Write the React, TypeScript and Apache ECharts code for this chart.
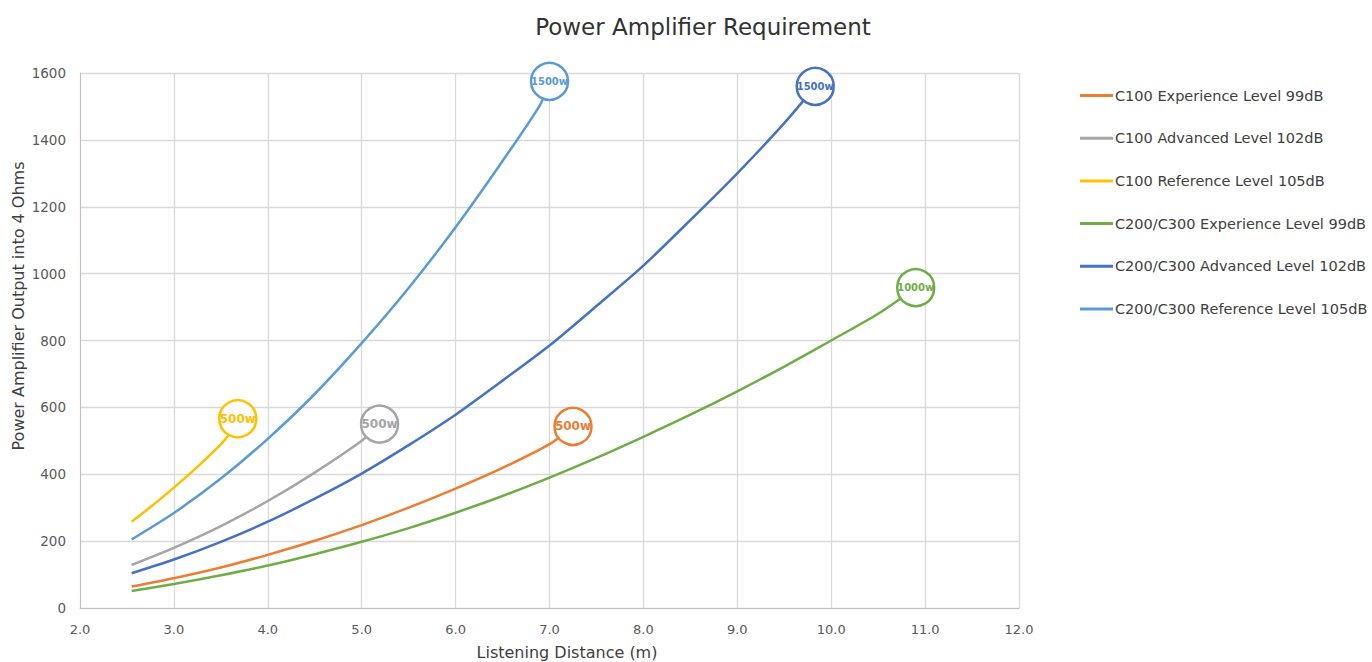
import React, { useEffect, useRef } from "react";
import * as echarts from "echarts";

const FONT = "'DejaVu Sans', 'Open Sans', sans-serif";

const seriesNames = [
  "C100 Experience Level 99dB",
  "C100 Advanced Level 102dB",
  "C100 Reference Level 105dB",
  "C200/C300 Experience Level 99dB",
  "C200/C300 Advanced Level 102dB",
  "C200/C300 Reference Level 105dB",
];

const seriesColors = ["#ED7D31", "#A5A5A5", "#FFC000", "#70AD47", "#4472C4", "#5B9BD5"];

const endLabels = ["500w", "500w", "500w", "1000w", "1500w", "1500w"];

const xAxisTitle = "Listening Distance (m)";
const yAxisTitle = "Power Amplifier Output into 4 Ohms";

// Listening distance (m) and amplifier power (W)
const c100ExpX = [2.55, 3.0, 3.5, 4.0, 4.5, 5.0, 5.5, 6.0, 6.5, 7.0, 7.25];
const c100ExpY = [64, 89, 121, 159, 201, 248, 300, 357, 419, 490, 543];

const c100AdvX = [2.55, 3.0, 3.5, 4.0, 4.5, 5.0, 5.19];
const c100AdvY = [129, 180, 245, 320, 405, 500, 550];

const c100RefX = [2.55, 2.8, 3.0, 3.25, 3.55, 3.68];
const c100RefY = [258, 313, 360, 422, 505, 566];

const c200ExpX = [2.55, 3.0, 3.5, 4.0, 4.5, 5.0, 5.5, 6.0, 6.5, 7.0, 7.5, 8.0, 8.5, 9.0, 9.5, 10.0, 10.5, 10.9];
const c200ExpY = [51, 72, 98, 127, 161, 198, 239, 285, 335, 390, 449, 512, 578, 648, 722, 800, 880, 958];

const c200AdvX = [2.55, 3.0, 3.5, 4.0, 4.5, 5.0, 5.5, 6.0, 6.5, 7.0, 7.5, 8.0, 8.5, 9.0, 9.5, 9.83];
const c200AdvY = [104, 145, 198, 258, 327, 402, 487, 578, 680, 785, 903, 1024, 1160, 1300, 1450, 1560];

const c200RefX = [2.55, 3.0, 3.5, 4.0, 4.5, 5.0, 5.5, 6.0, 6.5, 6.9, 7.0];
const c200RefY = [205, 284, 387, 506, 640, 792, 957, 1139, 1337, 1505, 1575];

const xs = [c100ExpX, c100AdvX, c100RefX, c200ExpX, c200AdvX, c200RefX];
const ys = [c100ExpY, c100AdvY, c100RefY, c200ExpY, c200AdvY, c200RefY];

export default function App() {
  const ref = useRef<HTMLDivElement>(null);

  useEffect(() => {
    if (!ref.current) return;
    const chart = echarts.init(ref.current, undefined, { renderer: "svg" });

    const series = seriesNames.map((name, i) => {
      const color = seriesColors[i];
      const n = xs[i].length;
      const data = xs[i].map((x, j) => {
        if (j === n - 1) {
          return {
            value: [x, ys[i][j]],
            symbol: "circle",
            symbolSize: 37,
            itemStyle: { color: "#ffffff", borderColor: color, borderWidth: 2.5 },
            label: {
              show: true,
              position: "inside",
              formatter: endLabels[i],
              color: color,
              fontFamily: FONT,
              fontWeight: "bold",
              fontSize: endLabels[i].length > 4 ? 10 : 12,
            },
          };
        }
        return { value: [x, ys[i][j]] };
      });
      return {
        name,
        type: "line",
        smooth: 0.25,
        symbol: "none",
        showSymbol: true,
        clip: false,
        color,
        lineStyle: { color, width: 2.5 },
        itemStyle: { color },
        data,
        z: 2 + i,
      };
    });

    chart.setOption({
      animation: false,
      backgroundColor: "#ffffff",
      title: {
        text: "Power Amplifier Requirement",
        left: 698,
        top: 10,
        textAlign: "center",
        textStyle: { fontFamily: FONT, fontSize: 23, fontWeight: "normal", color: "#333333" },
      },
      legend: {
        orient: "vertical",
        left: 1075,
        top: 83,
        itemGap: 27.7,
        itemWidth: 33,
        itemHeight: 3,
        icon: "rect",
        textStyle: { fontFamily: FONT, fontSize: 14.5, color: "#404040", padding: [0, 0, 0, -3] },
        data: seriesNames,
      },
      graphic: [
        {
          type: "text",
          x: 567,
          y: 652,
          style: {
            text: xAxisTitle,
            fontFamily: FONT,
            fontSize: 16,
            fill: "#404040",
            textAlign: "center",
            textVerticalAlign: "middle",
          },
        },
        {
          type: "text",
          x: 18,
          y: 306,
          rotation: Math.PI / 2,
          style: {
            text: yAxisTitle,
            fontFamily: FONT,
            fontSize: 16,
            fill: "#404040",
            textAlign: "center",
            textVerticalAlign: "middle",
          },
        },
      ],
      grid: { left: 80, right: 353, top: 73, bottom: 54, containLabel: false },
      xAxis: {
        type: "value",
        min: 2,
        max: 12,
        interval: 1,
        axisLine: { show: true, lineStyle: { color: "#bfbfbf", width: 1 } },
        axisTick: { show: false },
        axisLabel: {
          fontFamily: FONT,
          fontSize: 13,
          color: "#595959",
          margin: 15,
          formatter: (v: number) => v.toFixed(1),
        },
        splitLine: { show: true, lineStyle: { color: "#d9d9d9", width: 1.3 } },
      },
      yAxis: {
        type: "value",
        min: 0,
        max: 1600,
        interval: 200,
        axisLine: { show: true, lineStyle: { color: "#bfbfbf", width: 1 } },
        axisTick: { show: false },
        axisLabel: {
          fontFamily: FONT,
          fontSize: 13.5,
          color: "#595959",
          margin: 14,
          formatter: (v: number) => String(v),
        },
        splitLine: { show: true, lineStyle: { color: "#d9d9d9", width: 1.3 } },
      },
      series,
    });

    return () => chart.dispose();
  }, []);

  return (
    <div
      ref={ref}
      style={{ position: "absolute", left: 0, top: 0, width: 1372, height: 662 }}
    />
  );
}
